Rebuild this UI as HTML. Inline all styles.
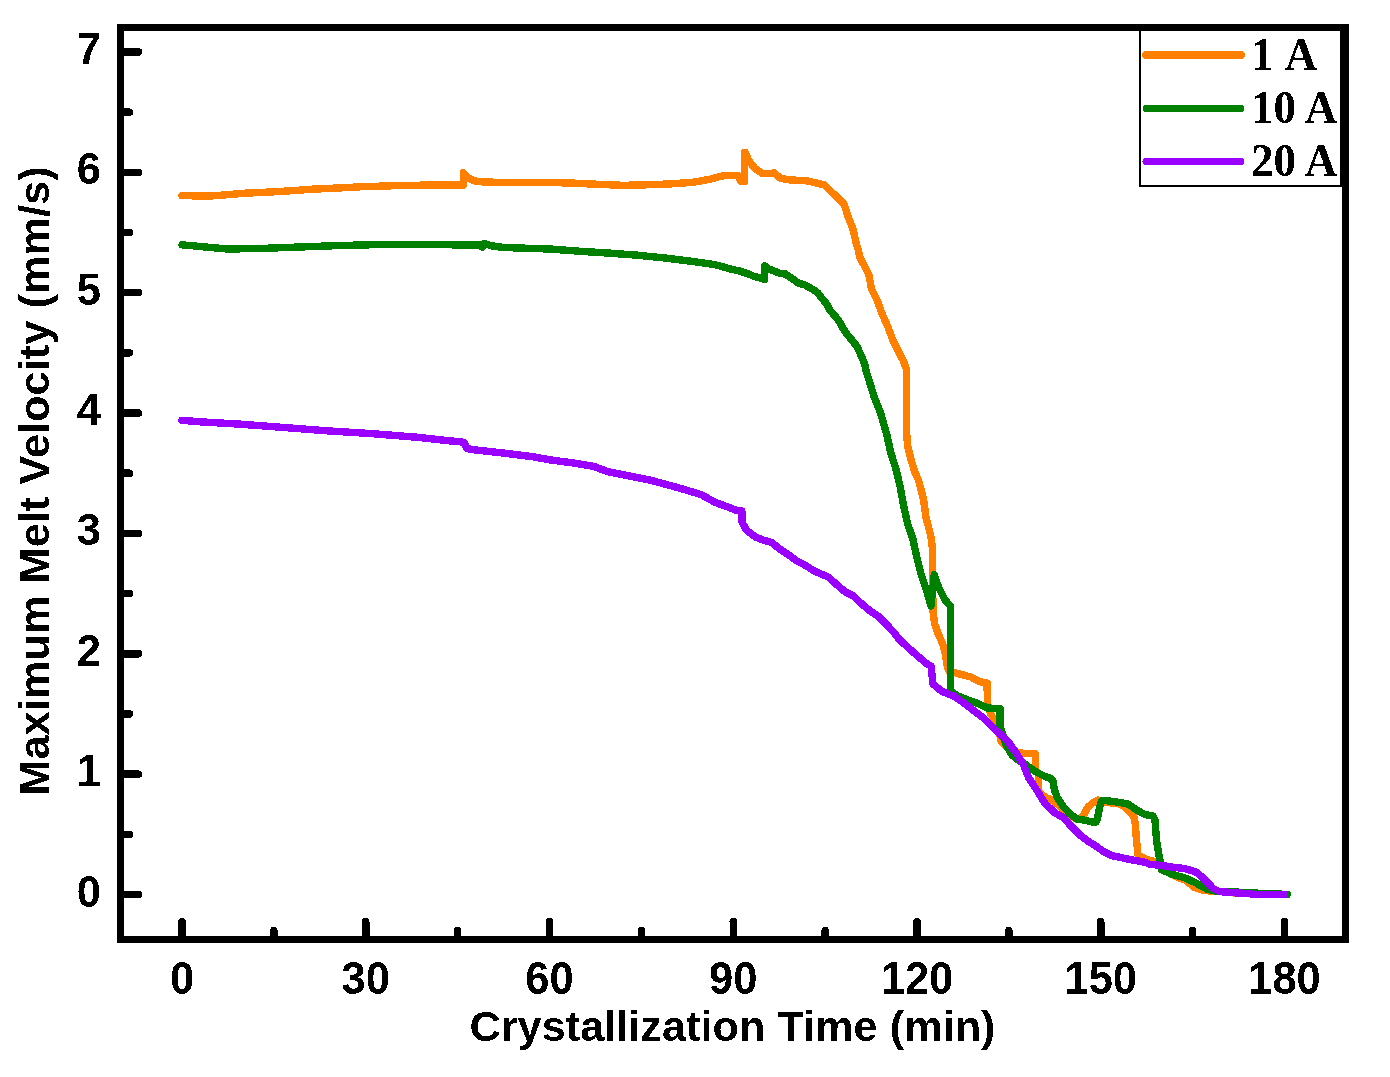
<!DOCTYPE html><html><head><meta charset="utf-8"><style>html,body{margin:0;padding:0;background:#fff;}svg{display:block;}.s{font-family:"Liberation Sans",sans-serif;font-weight:bold;}.r{font-family:"Liberation Serif",serif;font-weight:bold;}</style></head><body><svg width="1390" height="1077" viewBox="0 0 1390 1077" shape-rendering="crispEdges"><defs><filter id="bin" x="0" y="0" width="1" height="1" filterUnits="objectBoundingBox"><feComponentTransfer><feFuncA type="discrete" tableValues="0 1"/></feComponentTransfer></filter></defs><rect x="0" y="0" width="1390" height="1077" fill="#fff"/><path d="M182.0 195.7 L210.3 196.0 L224.7 194.9 L244.8 193.2 L270.7 192.0 L293.7 190.6 L312.4 189.2 L344.1 187.7 L360.0 186.8 L378.7 186.2 L393.8 185.7 L431.2 185.0 L460.0 184.9 L463.5 185.0 L463.5 172.7 L465.0 175.0 L470.0 179.0 L475.0 181.0 L482.0 181.8 L492.4 182.2 L519.7 182.3 L550.0 182.4 L574.5 183.2 L597.5 184.3 L621.9 185.3 L637.8 185.1 L669.4 184.0 L693.9 182.2 L709.7 179.3 L720.0 176.5 L725.5 175.5 L738.0 175.5 L741.0 181.5 L744.4 181.8 L744.4 152.5 L745.5 152.5 L746.8 156.0 L749.0 161.0 L755.0 168.5 L762.0 173.3 L772.0 173.2 L774.0 172.8 L780.4 178.2 L788.5 179.8 L806.6 180.8 L820.7 184.0 L824.0 184.8 L837.1 197.1 L844.1 204.1 L848.0 216.5 L852.9 228.8 L856.1 242.9 L858.3 250.0 L859.6 257.0 L863.5 264.1 L868.8 274.7 L871.5 288.8 L876.8 299.4 L882.0 313.5 L888.2 327.6 L893.5 341.7 L900.6 355.8 L903.1 360.0 L906.4 369.3 L906.4 428.7 L907.5 445.4 L911.2 460.3 L914.6 471.4 L918.7 480.7 L923.5 499.3 L926.1 517.8 L930.9 536.4 L932.6 550.0 L932.6 570.0 L932.9 610.2 L934.6 623.6 L938.1 633.6 L942.6 643.6 L945.5 655.0 L947.5 668.0 L950.0 672.5 L953.8 672.5 L962.5 674.7 L970.9 677.0 L979.2 681.5 L987.1 683.0 L987.4 703.0 L991.0 714.5 L996.0 722.3 L998.5 728.0 L1001.0 741.0 L1007.5 747.5 L1012.0 751.5 L1020.0 753.0 L1035.5 754.0 L1035.5 770.0 L1038.4 774.0 L1038.4 792.0 L1041.0 794.0 L1046.0 797.5 L1052.0 800.0 L1058.0 804.5 L1064.0 810.0 L1070.0 815.0 L1076.0 819.0 L1080.0 819.0 L1083.0 816.0 L1088.0 807.0 L1094.0 802.0 L1098.0 800.0 L1104.0 802.0 L1112.0 803.0 L1120.0 804.0 L1125.0 807.0 L1130.0 812.0 L1134.0 817.0 L1135.5 825.0 L1136.0 835.0 L1137.0 845.0 L1138.0 855.0 L1141.0 856.5 L1145.0 858.8 L1153.5 861.3 L1160.0 865.0 L1165.0 869.0 L1170.0 873.7 L1178.8 877.8 L1185.7 880.1 L1194.3 887.5 L1203.5 890.4 L1210.0 891.0 L1225.0 892.0 L1235.0 893.0" fill="none" stroke="#ff8000" stroke-width="7.4" stroke-linejoin="round" stroke-linecap="round"/><path d="M182.0 244.8 L200.0 246.5 L227.6 249.0 L260.0 248.5 L299.5 247.0 L340.0 245.5 L370.0 244.8 L393.1 244.6 L432.0 244.4 L456.4 244.9 L480.0 245.0 L482.5 247.3 L484.0 243.5 L486.0 244.0 L492.0 245.9 L503.0 247.4 L518.3 248.0 L539.9 248.7 L550.0 249.0 L578.8 251.2 L607.6 253.0 L636.3 255.1 L665.1 258.0 L693.9 261.6 L715.5 264.8 L729.9 268.8 L740.0 271.1 L750.0 274.5 L753.0 276.0 L761.5 278.5 L764.7 279.5 L764.7 266.0 L768.0 268.5 L780.0 273.5 L785.5 274.0 L798.5 283.1 L805.0 285.1 L814.0 290.0 L818.0 293.0 L821.7 298.1 L826.7 304.1 L829.8 310.2 L835.2 316.2 L839.7 322.2 L842.9 328.3 L847.1 334.3 L852.1 340.3 L857.1 346.7 L860.9 355.1 L864.5 363.4 L866.3 371.8 L869.0 380.2 L871.6 388.5 L874.1 396.9 L877.6 405.3 L880.8 413.6 L886.7 434.3 L890.8 452.9 L895.6 467.7 L900.1 486.3 L903.4 504.8 L907.5 523.4 L912.7 538.3 L916.7 556.7 L920.9 573.4 L926.4 590.1 L931.0 606.0 L934.3 574.5 L936.5 582.0 L940.0 590.0 L945.0 600.0 L950.5 606.0 L950.5 691.0 L958.0 696.0 L967.0 699.6 L975.1 702.3 L987.6 708.0 L995.1 708.5 L1000.0 708.5 L1000.0 726.0 L1003.0 735.0 L1006.0 745.0 L1012.0 755.0 L1018.0 760.0 L1025.0 764.0 L1030.0 768.0 L1038.0 773.0 L1045.0 776.5 L1050.0 778.0 L1053.0 781.0 L1054.5 790.0 L1057.0 797.0 L1062.0 805.0 L1070.0 814.0 L1078.0 819.5 L1084.0 820.0 L1094.0 822.5 L1096.0 822.0 L1097.5 818.0 L1099.5 808.0 L1101.5 801.0 L1104.0 800.5 L1112.0 801.3 L1120.1 802.6 L1128.4 804.2 L1136.8 810.1 L1145.2 814.7 L1153.0 816.0 L1155.0 820.0 L1156.5 840.0 L1158.0 850.0 L1160.0 860.0 L1161.5 869.7 L1173.0 874.6 L1184.5 877.7 L1196.0 883.0 L1207.6 889.5 L1215.0 891.0 L1250.0 892.8 L1270.0 893.8 L1287.3 894.4" fill="none" stroke="#008000" stroke-width="7.4" stroke-linejoin="round" stroke-linecap="round"/><path d="M182.0 420.3 L198.8 421.7 L241.9 424.3 L285.1 427.6 L328.3 430.9 L370.0 433.5 L388.8 435.0 L417.6 437.3 L446.3 440.5 L462.0 442.0 L464.5 443.0 L467.0 448.5 L475.1 449.9 L503.9 453.1 L532.7 456.7 L550.0 459.9 L571.6 462.7 L593.2 466.2 L607.6 471.6 L621.9 474.5 L650.7 480.2 L679.5 488.1 L701.1 494.6 L715.5 502.5 L729.9 507.8 L735.0 509.9 L741.9 511.0 L742.0 522.0 L746.7 530.5 L755.1 536.8 L763.4 540.1 L771.8 542.6 L780.1 549.3 L788.5 554.7 L796.8 561.0 L805.2 565.2 L813.5 570.6 L821.9 574.3 L828.4 577.1 L836.7 584.6 L845.1 591.7 L853.4 596.1 L861.8 603.9 L870.1 611.0 L878.5 616.6 L886.8 624.8 L895.2 634.0 L900.0 640.3 L908.4 647.8 L916.7 655.3 L926.7 663.7 L931.0 666.0 L933.0 684.0 L941.8 691.3 L953.5 695.9 L958.4 699.1 L966.7 705.1 L975.1 711.8 L983.4 718.0 L991.8 726.4 L1000.1 734.0 L1008.5 742.0 L1012.4 748.0 L1015.2 751.5 L1023.3 764.5 L1028.5 777.5 L1037.0 790.5 L1045.1 803.5 L1054.5 812.5 L1063.4 817.7 L1071.8 826.9 L1080.2 835.3 L1088.5 841.5 L1096.9 846.7 L1103.4 851.5 L1111.7 855.6 L1120.1 857.3 L1128.4 859.2 L1136.8 860.7 L1145.2 862.3 L1150.0 864.4 L1161.5 865.4 L1173.0 867.2 L1184.5 868.5 L1196.0 872.0 L1201.8 876.9 L1207.6 882.4 L1213.3 888.7 L1219.1 891.6 L1231.5 892.6 L1248.8 893.6 L1254.5 894.4 L1284.5 894.4" fill="none" stroke="#9900ff" stroke-width="7.4" stroke-linejoin="round" stroke-linecap="round"/><rect x="120.5" y="27.5" width="1225" height="912" fill="none" stroke="#000" stroke-width="7"/><path d="M124 894.50 H138.5 M124 774.14 H138.5 M124 653.78 H138.5 M124 533.42 H138.5 M124 413.06 H138.5 M124 292.70 H138.5 M124 172.34 H138.5 M124 51.98 H138.5 M124 834.32 H129.5 M124 713.96 H129.5 M124 593.60 H129.5 M124 473.24 H129.5 M124 352.88 H129.5 M124 232.52 H129.5 M124 112.16 H129.5 M182.00 936 V921.5 M365.75 936 V921.5 M549.50 936 V921.5 M733.25 936 V921.5 M917.00 936 V921.5 M1100.75 936 V921.5 M1284.50 936 V921.5 M273.88 936 V930.5 M457.62 936 V930.5 M641.38 936 V930.5 M825.12 936 V930.5 M1008.88 936 V930.5 M1192.62 936 V930.5" stroke="#000" stroke-width="7.5" stroke-linecap="round" fill="none"/><text filter="url(#bin)" class="s" x="101" y="906.5" font-size="43.5" text-anchor="end">0</text><text filter="url(#bin)" class="s" x="101" y="786.1" font-size="43.5" text-anchor="end">1</text><text filter="url(#bin)" class="s" x="101" y="665.8" font-size="43.5" text-anchor="end">2</text><text filter="url(#bin)" class="s" x="101" y="545.4" font-size="43.5" text-anchor="end">3</text><text filter="url(#bin)" class="s" x="101" y="425.1" font-size="43.5" text-anchor="end">4</text><text filter="url(#bin)" class="s" x="101" y="304.7" font-size="43.5" text-anchor="end">5</text><text filter="url(#bin)" class="s" x="101" y="184.3" font-size="43.5" text-anchor="end">6</text><text filter="url(#bin)" class="s" x="101" y="64.0" font-size="43.5" text-anchor="end">7</text><text filter="url(#bin)" class="s" transform="translate(182.00 993.5) scale(1 1.06)" font-size="43.5" text-anchor="middle">0</text><text filter="url(#bin)" class="s" transform="translate(365.75 993.5) scale(1 1.06)" font-size="43.5" text-anchor="middle">30</text><text filter="url(#bin)" class="s" transform="translate(549.50 993.5) scale(1 1.06)" font-size="43.5" text-anchor="middle">60</text><text filter="url(#bin)" class="s" transform="translate(733.25 993.5) scale(1 1.06)" font-size="43.5" text-anchor="middle">90</text><text filter="url(#bin)" class="s" transform="translate(917.00 993.5) scale(1 1.06)" font-size="43.5" text-anchor="middle">120</text><text filter="url(#bin)" class="s" transform="translate(1100.75 993.5) scale(1 1.06)" font-size="43.5" text-anchor="middle">150</text><text filter="url(#bin)" class="s" transform="translate(1284.50 993.5) scale(1 1.06)" font-size="43.5" text-anchor="middle">180</text><text filter="url(#bin)" class="s" x="732.5" y="1041" font-size="43.3" text-anchor="middle">Crystallization Time (min)</text><text filter="url(#bin)" class="s" transform="translate(49 481) rotate(-90)" x="0" y="0" font-size="43.4" text-anchor="middle">Maximum Melt Velocity (mm/s)</text><rect x="1140" y="28" width="201" height="157.5" fill="#fff" stroke="#000" stroke-width="2"/><path d="M1146 55 H1241" stroke="#ff8000" stroke-width="7.5" stroke-linecap="round"/><path d="M1146 108.4 H1241" stroke="#008000" stroke-width="7" stroke-linecap="round"/><path d="M1146 161.5 H1241" stroke="#9900ff" stroke-width="7" stroke-linecap="round"/><text filter="url(#bin)" class="r" transform="translate(1251 70) scale(1 1.04)" font-size="45">1 <tspan>A</tspan></text><text filter="url(#bin)" class="r" transform="translate(1251 123) scale(1 1.04)" font-size="45">10 A</text><text filter="url(#bin)" class="r" transform="translate(1251 176) scale(1 1.04)" font-size="45">20 A</text><path d="M117 27.5 H1349 M1345.5 24 V943" stroke="#000" stroke-width="7" fill="none"/></svg></body></html>
